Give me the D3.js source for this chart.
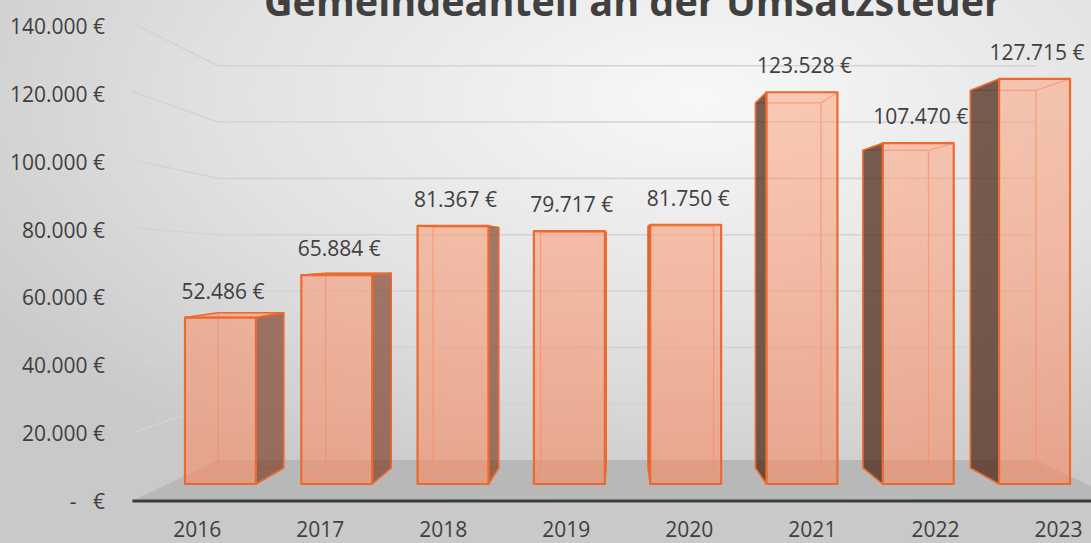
<!DOCTYPE html>
<html>
<head>
<meta charset="utf-8">
<script src="https://cdn.jsdelivr.net/npm/d3@7"></script>
<style>
  html, body { margin: 0; padding: 0; background: #e6e6e6; }
  svg { display: block; font-family: "Open Sans", "Noto Sans", sans-serif; }
</style>
</head>
<body>
<svg id="chart" width="1091" height="543"></svg>
<script>
// Data
const title = "Gemeindeanteil an der Umsatzsteuer";
const years = ["2016", "2017", "2018", "2019", "2020", "2021", "2022", "2023"];
const values = [52486, 65884, 81367, 79717, 81750, 123528, 107470, 127715];
const yTicks = [0, 20000, 40000, 60000, 80000, 100000, 120000, 140000];
const yMax = 140000;

const W = 1091, H = 543;
const svg = d3.select("#chart");
const defs = svg.append("defs");

// Perspective: vanishing point and depth factors of the different planes
const VP = { x: 622, y: 248 };
const depth = (s, sy) => ([px, py]) => [VP.x + s * (px - VP.x), VP.y + (sy ?? s) * (py - VP.y)];
const toBack = depth(0.924, 0.932);   // bar front face -> bar back face

// Scales of the bar front plane
const x = d3.scaleBand().domain(years).range([162.3, 1092.7])
  .paddingInner(0.39).paddingOuter(0.195);
const yBar = d3.scaleLinear().domain([0, yMax]).range([484, 40]);

// Walls and floor
const xFloorFront = v => VP.x + 1.065 * (v - VP.x);
const xWallBack = v => VP.x + 0.879 * (v - VP.x);
const yWallFront = d3.scaleLinear().domain([0, yMax]).range([501, 23.3]);
const yWallBack = d3.scaleLinear().domain([0, yMax]).range([460, 65.7]);
const yLabel = d3.scaleLinear().domain([0, yMax]).range([501.5, 26.7]);
const xLabel = v => VP.x + 1.058 * (v - VP.x);

const fmt = v => v === 0 ? "-   €" : d3.format(",.0f")(v).replace(/,/g, ".") + " €";

// Background
const bg = defs.append("radialGradient").attr("id", "bg")
  .attr("cx", "64%").attr("cy", "18%").attr("r", "78%");
bg.append("stop").attr("offset", "0").attr("stop-color", "#f8f8f8");
bg.append("stop").attr("offset", "0.55").attr("stop-color", "#e2e2e2");
bg.append("stop").attr("offset", "1").attr("stop-color", "#c9c9c9");
svg.append("rect").attr("width", W).attr("height", H).attr("fill", "url(#bg)");

// Bar front gradient
const bf = defs.append("linearGradient").attr("id", "barFront")
  .attr("gradientUnits", "userSpaceOnUse").attr("x1", 0).attr("y1", 60).attr("x2", 0).attr("y2", 490);
bf.append("stop").attr("offset", "0").attr("stop-color", "rgb(252,160,120)").attr("stop-opacity", 0.5);
bf.append("stop").attr("offset", "1").attr("stop-color", "rgb(248,138,98)").attr("stop-opacity", 0.6);

const [r0, r1] = x.range();
const line = d3.line();

// Floor
svg.append("path")
  .attr("d", line([[xFloorFront(r0), yWallFront(0)], [xWallBack(r0), yWallBack(0)],
                   [xWallBack(r1), yWallBack(0)], [xFloorFront(r1), yWallFront(0)]]) + "Z")
  .attr("fill", "#b8b8b8");

// Gridlines: along the left wall and across the back wall
svg.append("g").selectAll("path")
  .data(yTicks.filter(d => d > 0))
  .join("path")
  .attr("d", d => line([[xFloorFront(r0), yWallFront(d)], [xWallBack(r0), yWallBack(d)], [xWallBack(r1), yWallBack(d)]]))
  .attr("fill", "none").attr("stroke", "#d3d3d3").attr("stroke-width", 1.6);

// Category axis line
svg.append("line")
  .attr("x1", xFloorFront(r0)).attr("x2", W + 5)
  .attr("y1", yWallFront(0)).attr("y2", yWallFront(0))
  .attr("stroke", "#3d3d3d").attr("stroke-width", 3);

// Bars
const orange = "#ec6a2e";
const bars = svg.append("g");
years.forEach((yr, i) => {
  const v = values[i];
  const x0 = x(yr), x1 = x0 + x.bandwidth();
  const yt = yBar(v), yb = yBar(0);
  const F = { tl: [x0, yt], tr: [x1, yt], br: [x1, yb], bl: [x0, yb] };
  const B = { tl: toBack(F.tl), tr: toBack(F.tr), br: toBack(F.br), bl: toBack(F.bl) };
  const g = bars.append("g");

  // hidden edges seen through the translucent front
  g.append("path")
    .attr("d", line([B.tl, B.tr, B.br, B.bl]) + "Z" + line([F.bl, B.bl]) + line([F.br, B.br]) + line([F.tl, B.tl]) + line([F.tr, B.tr]))
    .attr("fill", "none").attr("stroke", "rgb(246,150,112)").attr("stroke-width", 1.3).attr("stroke-opacity", 0.85);

  // side face facing the vanishing point
  if (B.tr[0] > F.tr[0] + 0.5) {
    g.append("path").attr("d", line([F.tr, B.tr, B.br, F.br]) + "Z")
      .attr("fill", "rgba(115,45,20,0.6)").attr("stroke", orange).attr("stroke-width", 1.6).attr("stroke-linejoin", "round");
  }
  if (B.tl[0] < F.tl[0] - 0.5) {
    g.append("path").attr("d", line([F.tl, B.tl, B.bl, F.bl]) + "Z")
      .attr("fill", "rgba(70,35,20,0.72)").attr("stroke", orange).attr("stroke-width", 1.6).attr("stroke-linejoin", "round");
  }
  // top face, when the top lies below eye level
  if (B.tl[1] < F.tl[1]) {
    g.append("path").attr("d", line([F.tl, F.tr, B.tr, B.tl]) + "Z")
      .attr("fill", "rgba(248,150,110,0.55)").attr("stroke", orange).attr("stroke-width", 1.6).attr("stroke-linejoin", "round");
  }
  // front face
  g.append("path").attr("d", line([F.tl, F.tr, F.br, F.bl]) + "Z")
    .attr("fill", "url(#barFront)").attr("stroke", orange).attr("stroke-width", 2.2).attr("stroke-linejoin", "round");
});

// Value labels
svg.append("g").selectAll("text")
  .data(values)
  .join("text")
  .attr("x", (d, i) => x(years[i]) + x.bandwidth() / 2 + 2.5)
  .attr("y", d => yBar(d) - 19)
  .attr("text-anchor", "middle")
  .attr("font-size", 21).attr("fill", "#404040")
  .text(fmt);

// Value axis labels
svg.append("g").selectAll("text")
  .data(yTicks)
  .join("text")
  .attr("x", 105)
  .attr("y", d => yLabel(d))
  .attr("dy", "0.35em")
  .attr("text-anchor", "end")
  .attr("font-size", 21).attr("fill", "#404040")
  .style("white-space", "pre")
  .text(fmt);

// Category labels
svg.append("g").selectAll("text")
  .data(years)
  .join("text")
  .attr("x", d => xLabel(x(d) + x.bandwidth() / 2))
  .attr("y", 536.5)
  .attr("text-anchor", "middle")
  .attr("font-size", 21).attr("fill", "#404040")
  .text(d => d);

// Title, partly above the top edge of the chart area
svg.append("text")
  .attr("x", 633).attr("y", 15.7)
  .attr("text-anchor", "middle")
  .attr("font-size", 39).attr("font-weight", 700).attr("fill", "#404040")
  .attr("textLength", 738).attr("lengthAdjust", "spacingAndGlyphs")
  .text(title);
</script>
</body>
</html>
